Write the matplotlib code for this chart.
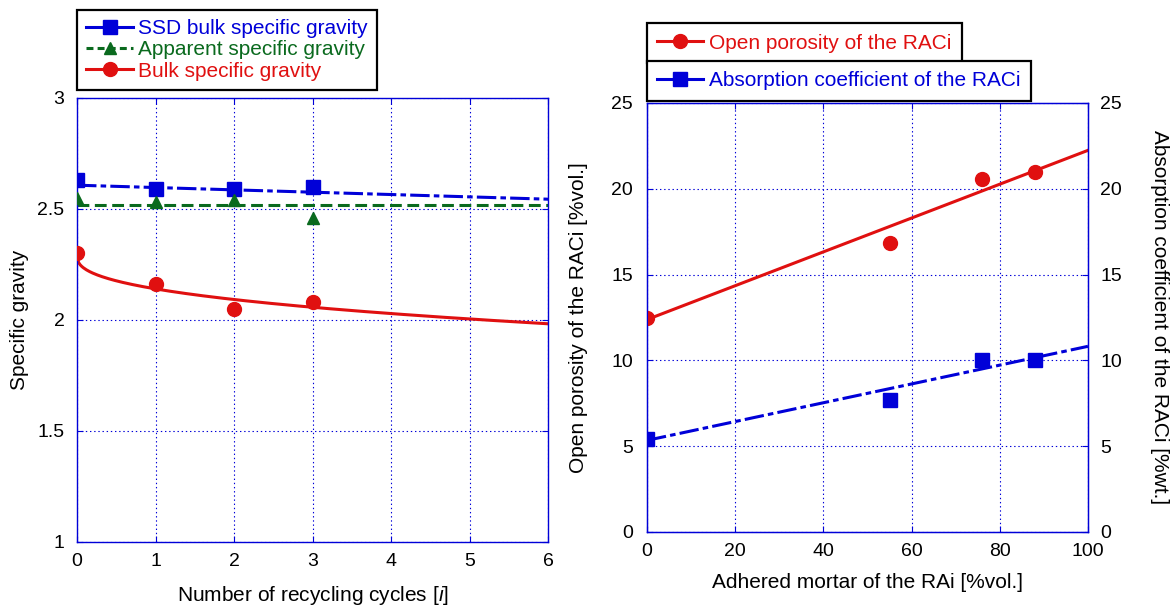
import matplotlib
matplotlib.use("Agg")
import matplotlib.pyplot as plt
import numpy as np
from matplotlib.lines import Line2D
from matplotlib.ticker import FuncFormatter

plt.rcParams.update({
    "font.family": ["Liberation Sans", "DejaVu Sans"],
    "font.size": 15,
    "mathtext.fontset": "custom",
    "mathtext.rm": "Liberation Sans",
    "mathtext.it": "Liberation Sans:italic",
    "lines.scale_dashes": False,
})

RED = "#e01010"
BLUE = "#0000d8"
GREEN = "#0a6a1e"

# left panel: specific gravity vs number of recycling cycles
cycles = [0, 1, 2, 3]
ssd_gravity = [2.63, 2.59, 2.59, 2.60]
apparent_gravity = [2.55, 2.53, 2.54, 2.46]
bulk_gravity = [2.30, 2.16, 2.05, 2.08]

# trend lines
ssd_fit = (2.607, -0.0105)       # intercept, slope
apparent_fit = 2.52              # constant
bulk_fit = (2.29, 0.15, 0.4)     # a - b * x**p

# right panel: porosity / absorption vs adhered mortar
mortar = [0, 55, 76, 88]
porosity = [12.46, 16.82, 20.6, 21.0]
absorption = [5.40, 7.70, 10.0, 10.04]
porosity_fit = (12.38, 0.0986)
absorption_fit = (5.34, 0.0548)

DASHDOT = (14, 3, 4, 3)
DASH = (8.5, 4)
LW = 2.2
TICK_FS = 14


def style_axes(ax, pad):
    for sp in ax.spines.values():
        sp.set_color(BLUE)
        sp.set_linewidth(1.0)
    ax.grid(True, color=BLUE, linestyle=(0, (1, 2)), linewidth=0.8)
    ax.tick_params(direction="in", color=BLUE, length=4, width=0.8,
                   top=True, right=True, labelsize=TICK_FS, pad=pad)
    ax.tick_params(axis="x", pad=8)
    ax.yaxis.set_major_formatter(FuncFormatter(lambda v, p: f"{v:g}"))


def framed_legend(ax, handles, labels, colors, anchor, **kw):
    leg = ax.legend(handles, labels, loc="lower left", bbox_to_anchor=anchor,
                    borderaxespad=0, fancybox=False, framealpha=1,
                    edgecolor="black", fontsize=15, **kw)
    leg.get_frame().set_linewidth(1.6)
    for t, c in zip(leg.get_texts(), colors):
        t.set_color(c)
    return leg


fig = plt.figure(figsize=(11.74, 6.08), dpi=100)

# ---- left panel ----
ax = fig.add_axes([0.0656, 0.1086, 0.4012, 0.7303])
style_axes(ax, pad=9)
xs = np.linspace(0, 6, 300)
ax.plot(xs, ssd_fit[0] + ssd_fit[1] * xs, color=BLUE, lw=LW, dashes=DASHDOT)
ax.plot(xs, np.full_like(xs, apparent_fit), color=GREEN, lw=LW, dashes=DASH)
ax.plot(xs, bulk_fit[0] - bulk_fit[1] * xs ** bulk_fit[2], color=RED, lw=LW)
ax.plot(cycles, ssd_gravity, "s", color=BLUE, ms=10, zorder=4)
ax.plot(cycles, apparent_gravity, "^", color=GREEN, ms=9, zorder=4)
ax.plot(cycles, bulk_gravity, "o", color=RED, ms=10, zorder=4)
ax.set_xlim(0, 6)
ax.set_ylim(1, 3)
ax.set_xticks(range(7))
ax.set_yticks([1, 1.5, 2, 2.5, 3])
ax.set_xlabel(r"Number of recycling cycles [$\it{i}$]", labelpad=10)
ax.set_ylabel("Specific gravity", labelpad=6)

handles = [
    Line2D([], [], color=BLUE, lw=LW, marker="s", ms=10),
    Line2D([], [], color=GREEN, lw=LW, marker="^", ms=9, dashes=(5, 3)),
    Line2D([], [], color=RED, lw=LW, marker="o", ms=10),
]
labels = ["SSD bulk specific gravity", "Apparent specific gravity",
          "Bulk specific gravity"]
framed_legend(ax, handles, labels, [BLUE, GREEN, RED], (0.0, 1.018),
              handlelength=2.25, handletextpad=0.25, labelspacing=0.1,
              borderpad=0.45)

# ---- right panel ----
axr = fig.add_axes([0.5511, 0.125, 0.3756, 0.7056])
style_axes(axr, pad=10)
axr.tick_params(right=False)
mx = np.linspace(0, 100, 50)
axr.plot(mx, porosity_fit[0] + porosity_fit[1] * mx, color=RED, lw=LW)
axr.plot(mortar, porosity, "o", color=RED, ms=10, zorder=4)
axr.set_xlim(0, 100)
axr.set_ylim(0, 25)
axr.set_xticks(range(0, 101, 20))
axr.set_yticks(range(0, 26, 5))
axr.set_xlabel("Adhered mortar of the RAi [%vol.]", labelpad=9)
axr.set_ylabel("Open porosity of the RACi [%vol.]", labelpad=17)

axr2 = axr.twinx()
axr2.plot(mx, absorption_fit[0] + absorption_fit[1] * mx, color=BLUE, lw=LW,
          dashes=DASHDOT)
axr2.plot(mortar, absorption, "s", color=BLUE, ms=10, zorder=4)
axr2.set_ylim(0, 25)
axr2.set_yticks(range(0, 26, 5))
for sp in axr2.spines.values():
    sp.set_color(BLUE)
axr2.tick_params(direction="in", color=BLUE, length=4, width=0.8,
                 labelsize=TICK_FS, pad=9)
axr2.set_ylabel("Absorption coefficient of the RACi [%wt.]", rotation=270,
                va="bottom", labelpad=20)

framed_legend(axr, [Line2D([], [], color=RED, lw=LW, marker="o", ms=10)],
              ["Open porosity of the RACi"], [RED], (0.0, 1.093),
              handlelength=2.2, handletextpad=0.3, borderpad=0.5)
framed_legend(axr2, [Line2D([], [], color=BLUE, lw=LW, marker="s", ms=10)],
              ["Absorption coefficient of the RACi"], [BLUE], (0.0, 1.005),
              handlelength=2.2, handletextpad=0.3, borderpad=0.5)

fig.savefig("out.png", dpi=100)
